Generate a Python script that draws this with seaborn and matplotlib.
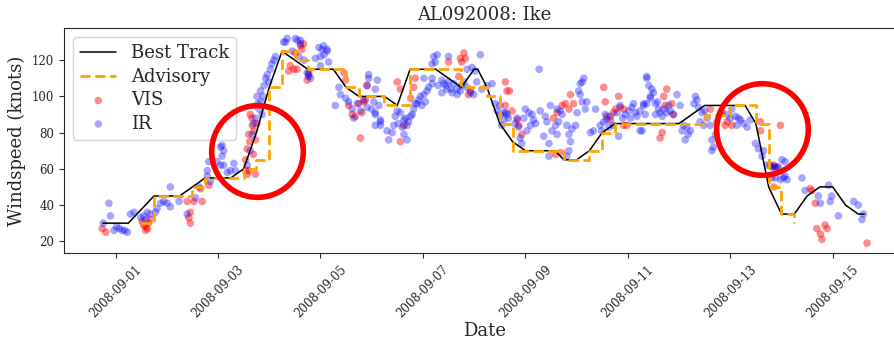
import numpy as np
import pandas as pd
import matplotlib
matplotlib.use("Agg")
import matplotlib.pyplot as plt
import matplotlib.dates as mdates
import seaborn as sns

# days after 2008-09-01 00Z, windspeed in knots
bt_day = [-0.25, 0.25, 0.75, 1.25, 1.5, 1.75, 2.25, 2.5, 2.75, 3.0, 3.25, 3.5, 3.75,
          4.0, 4.25, 4.5, 4.75, 5.0, 5.25, 5.5, 5.75, 6.0, 6.25, 6.5, 6.75, 7.0, 7.07,
          7.25, 7.5, 7.75, 8.0, 8.25, 8.5, 8.58, 8.75, 9.0, 9.25, 9.5, 9.75, 10.0,
          10.25, 10.5, 10.75, 11.0, 11.25, 11.5, 11.75, 12.0, 12.25, 12.29, 12.5,
          12.75, 13.0, 13.25, 13.5, 13.75, 14.0, 14.25, 14.5, 14.62]
bt_kt = [30, 30, 45, 45, 50, 55, 55, 60, 80, 105, 125, 120, 115,
         115, 115, 105, 100, 100, 100, 95, 115, 115, 115, 110, 105, 115, 115,
         105, 85, 75, 70, 70, 70, 70, 65, 65, 70, 80, 85, 85,
         85, 85, 85, 85, 90, 95, 95, 95, 95, 95, 85,
         50, 35, 35, 45, 50, 50, 40, 35, 35]

adv_day = [0.5, 0.75, 1.5, 1.75, 2.5, 2.75, 3.0, 3.25, 3.5, 3.75, 4.5, 4.75, 5.25,
           5.75, 6.75, 7.25, 7.5, 7.75, 8.75, 9.25, 9.5, 9.75, 11.5, 12.0, 12.5,
           12.75, 13.0, 13.25]
adv_kt = [30, 45, 50, 55, 60, 65, 105, 125, 120, 115, 105, 100, 95,
          115, 105, 100, 85, 70, 65, 70, 80, 85, 90, 95, 85,
          50, 35, 30]

ir_points = [
    (-0.13, 41), (-0.10, 34), (-0.24, 30), (-0.03, 26), (0.07, 27), (0.13, 26), (0.23, 25),
    (0.29, 35), (0.36, 36), (0.49, 33), (0.59, 32), (0.68, 35), (0.78, 36), (0.81, 38),
    (0.88, 41), (0.94, 42), (1.01, 41), (1.07, 39), (1.24, 42), (1.40, 35), (1.07, 50),
    (0.02, 28), (0.18, 26), (0.55, 34), (0.62, 36),
    (1.56, 44), (1.63, 50), (1.79, 56), (1.85, 53), (1.79, 59), (1.82, 64), (1.98, 64),
    (2.08, 73), (2.05, 72), (2.11, 70), (2.08, 67), (2.05, 62), (2.11, 62), (2.18, 58),
    (2.31, 63), (2.34, 59), (2.24, 59),
    (2.76, 100), (2.83, 103), (2.93, 110), (2.96, 112), (3.02, 115), (2.90, 106), (2.80, 93),
    (2.86, 90), (2.67, 79), (2.63, 70), (2.57, 62), (2.70, 85), (2.78, 96), (2.88, 100),
    (2.99, 108), (2.73, 88), (2.84, 97), (3.05, 118), (3.12, 122), (3.09, 120),
    (3.28, 130), (3.35, 132), (3.55, 131), (3.61, 129), (3.32, 130), (3.51, 132), (3.61, 131),
    (3.74, 113), (3.77, 111), (4.06, 128), (4.13, 125), (4.00, 122), (4.16, 119), (3.97, 127),
    (4.03, 126), (4.13, 126), (3.90, 121), (4.07, 123), (4.00, 117), (3.77, 113), (3.81, 110),
    (3.45, 125), (3.58, 122), (3.68, 120),
    (4.36, 105), (4.39, 101), (4.29, 95), (4.49, 99), (4.55, 97), (4.62, 93), (4.65, 88),
    (4.72, 96), (4.78, 92), (4.91, 94), (4.94, 110), (4.91, 106), (4.94, 112), (5.11, 109),
    (5.07, 104), (5.04, 97), (5.14, 95), (5.07, 91), (5.07, 90), (5.17, 86), (5.07, 84),
    (5.17, 87), (5.17, 84), (4.84, 98), (5.00, 93),
    (5.30, 81), (5.33, 76), (5.43, 84), (5.46, 89), (5.50, 92), (5.56, 91), (5.63, 87),
    (5.69, 84), (5.72, 86), (5.76, 89), (5.63, 79), (5.69, 76), (5.82, 93), (5.89, 96),
    (5.95, 100), (6.02, 101), (6.08, 103), (6.11, 105), (6.18, 107), (6.05, 97), (5.85, 96),
    (5.98, 95), (5.40, 80), (5.52, 85), (5.60, 83), (5.79, 90), (5.92, 98), (5.66, 88),
    (6.21, 122), (6.28, 123), (6.24, 119), (6.18, 118), (6.50, 122), (7.12, 123), (6.02, 110),
    (6.18, 110), (6.37, 109), (6.41, 107), (6.50, 108), (6.60, 107), (6.67, 104), (6.73, 103),
    (6.86, 105), (6.93, 102), (6.99, 101), (6.80, 108), (7.02, 114), (6.86, 115), (6.96, 116),
    (7.25, 106), (7.35, 107), (7.41, 96), (7.45, 92), (7.51, 90), (7.58, 87), (7.67, 88),
    (7.54, 84), (6.37, 102), (6.57, 102), (6.47, 104), (6.67, 101), (6.30, 106), (6.45, 106),
    (6.55, 104), (6.75, 106), (7.05, 108), (7.15, 104), (7.50, 95), (7.62, 91),
    (7.58, 91), (7.64, 90), (7.80, 85), (7.87, 83), (7.90, 77), (7.93, 74), (8.00, 93),
    (8.07, 91), (8.13, 90), (8.16, 87), (8.10, 84), (8.03, 81), (7.97, 88), (8.29, 92),
    (8.27, 115), (8.49, 95), (8.39, 89), (8.42, 86), (8.36, 78), (8.46, 74), (8.46, 67),
    (8.52, 81), (8.59, 84), (8.65, 86), (8.62, 79), (8.68, 92), (8.72, 90), (8.62, 93),
    (7.84, 88), (8.20, 85),
    (8.81, 84), (8.85, 79), (8.91, 82), (8.88, 75), (8.85, 70), (8.81, 67), (8.98, 84),
    (9.01, 91), (9.04, 103), (9.07, 107), (9.11, 108), (9.07, 101), (9.14, 110), (9.11, 97),
    (9.17, 93), (9.20, 97), (9.27, 80), (9.33, 81), (9.37, 93), (9.46, 84), (9.53, 86),
    (9.59, 87), (9.63, 83), (9.49, 81), (9.66, 89), (9.72, 84), (9.79, 91), (9.85, 95),
    (9.95, 90), (10.02, 92), (10.08, 94), (10.11, 96), (10.15, 91), (10.18, 89), (10.24, 92),
    (10.31, 95), (10.37, 96), (9.82, 78), (10.24, 81), (10.37, 110), (10.41, 106),
    (10.44, 100), (9.90, 88), (10.05, 88), (9.56, 90),
    (10.37, 111), (10.47, 104), (10.44, 99), (10.31, 96), (10.34, 90), (10.28, 81),
    (10.54, 96), (10.60, 93), (10.63, 91), (10.70, 93), (10.76, 91), (10.83, 92), (10.89, 90),
    (10.96, 101), (11.02, 95), (10.54, 90), (10.67, 89), (11.09, 84), (11.15, 83), (11.12, 76),
    (11.22, 81), (11.06, 81), (11.32, 100), (11.35, 98), (11.29, 96), (11.38, 94), (11.45, 91),
    (11.41, 86), (11.48, 84), (11.55, 88), (11.61, 84), (11.64, 76), (11.67, 72), (11.64, 70),
    (11.71, 79), (11.81, 90), (11.94, 90), (12.03, 93), (12.10, 89), (12.13, 84), (12.20, 87),
    (12.26, 85), (12.33, 83), (12.39, 87), (10.50, 102), (10.58, 97), (10.80, 95),
    (11.18, 79), (11.50, 92), (12.00, 88), (12.16, 88),
    (12.49, 74), (12.55, 71), (12.62, 67), (12.72, 62), (12.81, 61), (12.91, 61), (13.01, 65),
    (13.07, 64), (13.04, 55), (13.11, 54), (12.98, 54), (12.88, 55), (12.65, 70), (12.78, 62),
    (12.85, 61), (12.94, 61), (13.07, 56), (12.81, 55), (13.40, 55), (13.46, 48), (13.72, 45),
    (13.76, 41), (13.95, 42), (13.98, 45), (13.92, 51), (14.41, 42), (14.50, 40), (14.60, 35),
    (14.57, 32), (14.11, 34),
]

vis_points = [
    (-0.26, 27), (-0.19, 25), (0.52, 31), (0.55, 29), (0.59, 26), (0.62, 27), (0.64, 30),
    (0.68, 32), (0.58, 28), (1.46, 36), (1.43, 33), (1.46, 30), (1.40, 42), (1.53, 42),
    (1.66, 49), (1.69, 42), (1.82, 51), (2.54, 59), (2.57, 57), (2.73, 57),
    (2.63, 90), (2.67, 84), (2.60, 79), (2.70, 81), (2.76, 85), (2.73, 76), (2.57, 71),
    (2.54, 65), (2.60, 59), (2.62, 75), (2.66, 88), (2.69, 68),
    (3.61, 128), (3.64, 126), (3.48, 115), (3.38, 114), (3.74, 109), (3.77, 112), (3.41, 117),
    (3.54, 115), (3.67, 129), (3.51, 124),
    (4.46, 113), (4.49, 109), (4.55, 95), (4.62, 90), (4.68, 89), (4.75, 96), (4.78, 77),
    (4.88, 98), (4.91, 106), (4.85, 97), (4.81, 91),
    (5.50, 108), (5.56, 104), (5.63, 84), (5.56, 75), (5.85, 110), (5.82, 105), (5.76, 99),
    (6.73, 121), (6.80, 124), (6.83, 121), (6.76, 119), (6.50, 119), (6.70, 111), (6.89, 101),
    (6.93, 103), (7.61, 108), (7.64, 103), (7.61, 95),
    (7.69, 103), (7.74, 92), (7.84, 87), (7.87, 84), (7.93, 79),
    (8.55, 88), (8.62, 91), (8.72, 95), (8.78, 96), (8.85, 93), (8.88, 101), (8.94, 96),
    (8.59, 68), (8.68, 69),
    (9.53, 105), (9.56, 97), (9.82, 100), (9.85, 94), (9.92, 93), (9.76, 93), (9.59, 89),
    (9.66, 87), (9.72, 91), (9.92, 84), (9.98, 84),
    (10.76, 104), (10.70, 100), (10.86, 96), (10.73, 95), (10.89, 90), (10.67, 80), (10.63, 77),
    (11.61, 93), (11.84, 91), (11.94, 86), (11.90, 84), (11.74, 86), (12.03, 84), (12.59, 81),
    (12.59, 86), (12.85, 62), (12.88, 61), (12.85, 50), (12.98, 84), (13.56, 49), (13.59, 48),
    (13.66, 41), (13.69, 27), (13.85, 29), (13.89, 27), (13.76, 24), (13.79, 21), (14.67, 19),
]

# rapid-change periods highlighted with red rings
highlight_day = [2.77, 12.62]
highlight_kt = [70, 82]

base = pd.Timestamp("2008-09-01")


def to_dates(days):
    return base + pd.to_timedelta(np.asarray(days, dtype=float), unit="D")


ir = pd.DataFrame(ir_points, columns=["day", "kt"])
vis = pd.DataFrame(vis_points, columns=["day", "kt"])
ir["time"] = to_dates(ir["day"])
vis["time"] = to_dates(vis["day"])

sns.set_style("ticks")
plt.rcParams["font.family"] = ["DejaVu Serif"]

fig = plt.figure(figsize=(8.94, 3.4), dpi=100)
ax = fig.add_axes([0.0716, 0.255, 0.941, 0.662])

sns.lineplot(x=to_dates(bt_day), y=bt_kt, color="black", lw=1.1,
             estimator=None, label="Best Track", ax=ax)
sns.lineplot(x=to_dates(adv_day), y=adv_kt, color="orange", lw=2, ls="--",
             drawstyle="steps-post", estimator=None, label="Advisory", ax=ax)
sns.scatterplot(data=vis, x="time", y="kt", color="red", alpha=0.45, s=30,
                edgecolor="none", label="VIS", ax=ax)
sns.scatterplot(data=ir, x="time", y="kt", color="blue", alpha=0.35, s=30,
                edgecolor="none", label="IR", ax=ax)

ax.plot(to_dates(highlight_day), highlight_kt, "o", ms=66, mfc="none",
        mec="red", mew=4, zorder=10)

ax.xaxis.set_major_locator(mdates.DayLocator(bymonthday=[1, 3, 5, 7, 9, 11, 13, 15]))
ax.xaxis.set_major_formatter(mdates.DateFormatter("%Y-%m-%d"))
ax.tick_params(axis="both", labelsize=8.5)
plt.setp(ax.get_xticklabels(), rotation=45)

ax.set_title("AL092008: Ike", fontsize=13)
ax.set_xlabel("Date", fontsize=13, labelpad=1)
ax.set_ylabel("Windspeed (knots)", fontsize=13)
ax.legend(loc="upper left", fontsize=13, labelspacing=0.3)

fig.savefig("out.png", dpi=100)
